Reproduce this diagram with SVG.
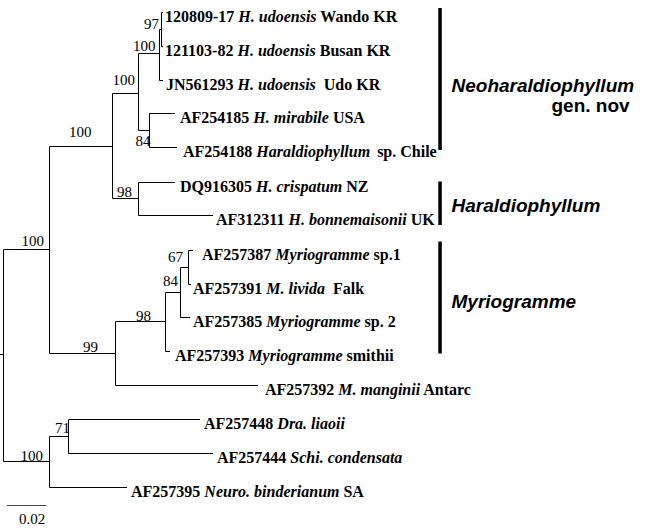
<svg xmlns="http://www.w3.org/2000/svg" width="650" height="529" viewBox="0 0 650 529">
<defs>
<style>
.e{fill:none;stroke:#000;stroke-width:1}
.t{font-family:"Liberation Serif","Times New Roman",serif;font-size:16px;font-weight:bold;fill:#000}
.i{font-style:italic}
.n{font-weight:normal}
.b{font-family:"Liberation Serif","Times New Roman",serif;font-size:15px;fill:#000}
.c{font-family:"Liberation Sans",Arial,sans-serif;font-size:19px;font-weight:bold;font-style:italic;fill:#000}
.g{font-style:normal}
.bar{fill:#000}
</style>
</defs>
<rect width="650" height="529" fill="#fff"/>
<g id="connectors">
<path class="e" d="M0 354.5H3.5M3.5 249.5V461.5M3.5 249.5H49.5M3.5 461.5H49.5"/>
<path class="e" d="M49.5 146.5V353.5M49.5 146.5H112.5M49.5 353.5H115.5"/>
<path class="e" d="M112.5 93.5V198.5M112.5 93.5H138.5M112.5 198.5H138.5"/>
<path class="e" d="M138.5 53.5V130.5M138.5 53.5H159.5M138.5 130.5H149.5"/>
<path class="e" d="M159.5 29.5V80.5M159.5 29.5H161.5M161.5 12.5V46.5M161.5 12.5H163M161.5 46.5H163M159.5 80.5H163"/>
<path class="e" d="M149.5 113.5V147.5M149.5 113.5H175M149.5 147.5H177"/>
<path class="e" d="M138.5 182.5V215.5M138.5 182.5H175M138.5 215.5H213"/>
<path class="e" d="M115.5 321.5V385.5M115.5 321.5H165.5M115.5 385.5H258"/>
<path class="e" d="M165.5 292.5V351.5M165.5 292.5H180.5M165.5 351.5H170"/>
<path class="e" d="M180.5 267.5V317.5M180.5 267.5H188.5M180.5 317.5H190"/>
<path class="e" d="M188.5 250.5V284.5M188.5 250.5H193M188.5 284.5H191"/>
<path class="e" d="M49.5 436.5V487.5M49.5 436.5H68.5M49.5 487.5H127"/>
<path class="e" d="M68.5 419.5V453.5M68.5 419.5H200M68.5 453.5H213"/>
<path d="M7 505.5H46" fill="none" stroke="#444" stroke-width="1"/>
</g>
<g id="support">
<text class="b" x="21.5" y="246">100</text>
<text class="b" x="69" y="137">100</text>
<text class="b" x="112.5" y="85">100</text>
<text class="b" x="133" y="51">100</text>
<text class="b" x="144" y="29">97</text>
<text class="b" x="135.5" y="146">84</text>
<text class="b" x="117" y="197">98</text>
<text class="b" x="83" y="352">99</text>
<text class="b" x="136" y="321">98</text>
<text class="b" x="163" y="286">84</text>
<text class="b" x="168" y="262">67</text>
<text class="b" x="55" y="433">71</text>
<text class="b" x="20.5" y="461">100</text>
</g>
<g id="scale"><text class="b" x="19" y="524" fill="#222">0.02</text></g>
<g id="tip-wando"><text class="t" x="165" y="22">120809-17 <tspan class="i">H. udoensis</tspan> Wando KR</text></g>
<g id="tip-busan"><text class="t" x="165" y="56">121103-82 <tspan class="i">H. udoensis</tspan> Busan KR</text></g>
<g id="tip-jn561293"><text class="t" x="166" y="90">JN561293 <tspan class="i">H. udoensis</tspan><tspan dx="8">Udo KR</tspan></text></g>
<g id="tip-af254185"><text class="t" x="180" y="123">AF254185 <tspan class="i">H. mirabile</tspan> USA</text></g>
<g id="tip-af254188"><text class="t" x="183" y="157">AF254188 <tspan class="i">Haraldiophyllum</tspan><tspan dx="7">sp. Chile</tspan></text></g>
<g id="tip-dq916305"><text class="t" x="180" y="192">DQ916305 <tspan class="i">H. crispatum</tspan> NZ</text></g>
<g id="tip-af312311"><text class="t" x="216" y="225">AF312311 <tspan class="i">H. bonnemaisonii</tspan> UK</text></g>
<g id="tip-af257387"><text class="t" x="202" y="260">AF257387 <tspan class="i">Myriogramme</tspan> sp.1</text></g>
<g id="tip-af257391"><text class="t" x="193" y="294">AF257391 <tspan class="i">M. livida</tspan><tspan dx="8">Falk</tspan></text></g>
<g id="tip-af257385"><text class="t" x="193" y="327">AF257385 <tspan class="i">Myriogramme</tspan> sp. 2</text></g>
<g id="tip-af257393"><text class="t" x="175" y="361">AF257393 <tspan class="i">Myriogramme</tspan> smithii</text></g>
<g id="tip-af257392"><text class="t" x="265" y="395">AF257392 <tspan class="i">M. manginii</tspan> Antarc</text></g>
<g id="tip-af257448"><text class="t" x="204" y="429">AF257448 <tspan class="i">Dra. liaoii</tspan></text></g>
<g id="tip-af257444"><text class="t" x="217" y="463">AF257444 <tspan class="i">Schi. condensata</tspan></text></g>
<g id="tip-af257395"><text class="t" x="131" y="497">AF257395 <tspan class="i">Neuro. binderianum</tspan> SA</text></g>
<g id="clade-neoharaldiophyllum">
<rect class="bar" x="438.3" y="8" width="3.5" height="142"/>
<text class="c" x="451.5" y="92">Neoharaldiophyllum</text>
<text class="c g" x="551.5" y="112">gen. nov</text>
</g>
<g id="clade-haraldiophyllum">
<rect class="bar" x="438.3" y="181.5" width="3.5" height="43.5"/>
<text class="c" x="451.5" y="211.5">Haraldiophyllum</text>
</g>
<g id="clade-myriogramme">
<rect class="bar" x="438.3" y="241.5" width="3.5" height="112"/>
<text class="c" x="451.5" y="308">Myriogramme</text>
</g>
</svg>
